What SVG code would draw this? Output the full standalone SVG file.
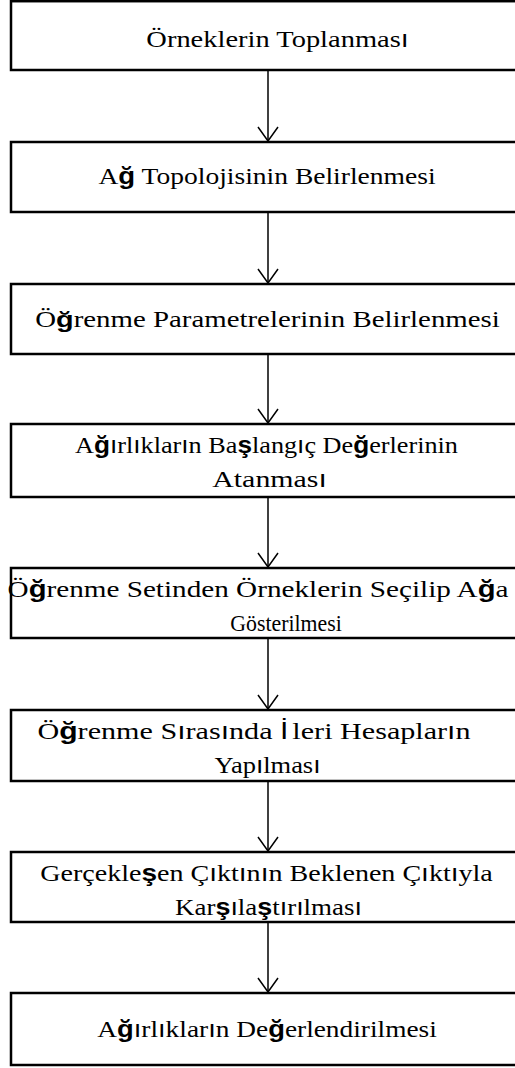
<svg xmlns="http://www.w3.org/2000/svg" width="515" height="1068" viewBox="0 0 515 1068">
  <style>
    .box { fill: #ffffff; stroke: #000000; stroke-width: 2.5; }
    .lbl { font-family: "Liberation Serif", "Times New Roman", serif; font-size: 23px; fill: #000000; text-anchor: middle; }
    .x { font-family: "Liberation Sans", Arial, sans-serif; }
    .xb { font-family: "Liberation Sans", Arial, sans-serif; font-weight: bold; }
    .conn { stroke: #000000; stroke-width: 1.5; fill: none; }
  </style>
  <defs>
    <marker id="arr" viewBox="0 0 16 22" refX="15" refY="11" markerWidth="16" markerHeight="22" markerUnits="userSpaceOnUse" orient="auto">
      <path d="M1,1 L15,11 L1,21" fill="none" stroke="#000000" stroke-width="1.5"/>
    </marker>
  </defs>
  <rect width="515" height="1068" fill="#ffffff"/>

  <!-- connectors -->
  <g id="connectors" class="conn">
    <line x1="268" y1="70" x2="268" y2="141" marker-end="url(#arr)"/>
    <line x1="268" y1="212" x2="268" y2="283" marker-end="url(#arr)"/>
    <line x1="268" y1="354" x2="268" y2="423" marker-end="url(#arr)"/>
    <line x1="268" y1="497" x2="268" y2="567" marker-end="url(#arr)"/>
    <line x1="268" y1="638" x2="268" y2="709" marker-end="url(#arr)"/>
    <line x1="268" y1="781" x2="268" y2="851" marker-end="url(#arr)"/>
    <line x1="268" y1="922" x2="268" y2="992" marker-end="url(#arr)"/>
  </g>

  <!-- steps -->
  <g id="step1">
    <rect class="box" x="11" y="1.2" width="520" height="68.8"/>
    <text class="lbl" transform="translate(277.5,47) scale(1.238,1)">Örneklerin Toplanmas<tspan class="x">ı</tspan></text>
  </g>
  <g id="step2">
    <rect class="box" x="11" y="142" width="520" height="70"/>
    <text class="lbl" transform="translate(267,184) scale(1.198,1)">A<tspan class="xb">ğ</tspan> Topolojisinin Belirlenmesi</text>
  </g>
  <g id="step3">
    <rect class="box" x="11" y="284" width="520" height="70"/>
    <text class="lbl" transform="translate(267.5,327) scale(1.255,1)">Ö<tspan class="xb">ğ</tspan>renme Parametrelerinin Belirlenmesi</text>
  </g>
  <g id="step4">
    <rect class="box" x="11" y="424" width="520" height="73"/>
    <text class="lbl" transform="translate(266.5,453) scale(1.14,1)">A<tspan class="xb">ğ</tspan><tspan class="x">ı</tspan>rl<tspan class="x">ı</tspan>klar<tspan class="x">ı</tspan>n Ba<tspan class="xb">ş</tspan>lang<tspan class="x">ı</tspan>ç De<tspan class="xb">ğ</tspan>erlerinin</text>
    <text class="lbl" transform="translate(269.5,487) scale(1.3,1)">Atanmas<tspan class="x">ı</tspan></text>
  </g>
  <g id="step5">
    <rect class="box" x="11" y="568" width="520" height="70"/>
    <text class="lbl" transform="translate(258,597) scale(1.27,1)">Ö<tspan class="xb">ğ</tspan>renme Setinden Örneklerin Seçilip A<tspan class="xb">ğ</tspan>a</text>
    <text class="lbl" transform="translate(286,631) scale(0.95,1)">Gösterilmesi</text>
  </g>
  <g id="step6">
    <rect class="box" x="11" y="710" width="520" height="71"/>
    <text class="lbl" transform="translate(254,739) scale(1.31,1)">Ö<tspan class="xb">ğ</tspan>renme S<tspan class="x">ı</tspan>ras<tspan class="x">ı</tspan>nda <tspan class="x">İ</tspan><tspan dx="3">leri</tspan> Hesaplar<tspan class="x">ı</tspan>n</text>
    <text class="lbl" transform="translate(267.5,773) scale(1.15,1)">Yap<tspan class="x">ı</tspan>lmas<tspan class="x">ı</tspan></text>
  </g>
  <g id="step7">
    <rect class="box" x="11" y="852" width="520" height="70"/>
    <text class="lbl" transform="translate(266.5,881) scale(1.22,1)">Gerçekle<tspan class="xb">ş</tspan>en Ç<tspan class="x">ı</tspan>kt<tspan class="x">ı</tspan>n<tspan class="x">ı</tspan>n Beklenen Ç<tspan class="x">ı</tspan>kt<tspan class="x">ı</tspan>yla</text>
    <text class="lbl" transform="translate(268.5,915) scale(1.17,1)">Kar<tspan class="xb">ş</tspan><tspan class="x">ı</tspan>la<tspan class="xb">ş</tspan>t<tspan class="x">ı</tspan>r<tspan class="x">ı</tspan>lmas<tspan class="x">ı</tspan></text>
  </g>
  <g id="step8">
    <rect class="box" x="11" y="993" width="520" height="72"/>
    <text class="lbl" transform="translate(267,1037) scale(1.19,1)">A<tspan class="xb">ğ</tspan><tspan class="x">ı</tspan>rl<tspan class="x">ı</tspan>klar<tspan class="x">ı</tspan>n De<tspan class="xb">ğ</tspan>erlendirilmesi</text>
  </g>
</svg>
